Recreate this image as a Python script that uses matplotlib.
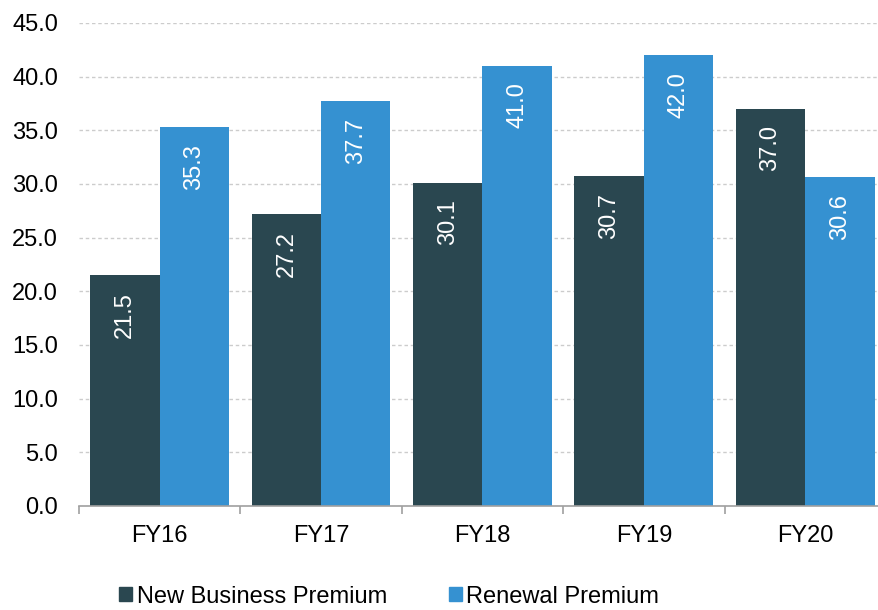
import numpy as np
import matplotlib.pyplot as plt
from matplotlib.patches import Patch

years = ['FY16', 'FY17', 'FY18', 'FY19', 'FY20']
new_business = [21.5, 27.2, 30.1, 30.7, 37.0]
renewal = [35.3, 37.7, 41.0, 42.0, 30.6]

dark = '#2a4750'
blue = '#3591d1'

plt.rcParams['font.family'] = ['Liberation Sans', 'DejaVu Sans']
plt.rcParams['font.size'] = 17

fig = plt.figure(figsize=(8.79, 6.10), dpi=100)
ax = fig.add_axes([0.0899, 0.1705, 0.918, 0.792])

x = np.arange(len(years))
w = 0.43
b1 = ax.bar(x - w / 2, new_business, w, color=dark, zorder=2)
b2 = ax.bar(x + w / 2, renewal, w, color=blue, zorder=2)

# value labels, rotated, inside the top of each bar
for bars, vals in [(b1, new_business), (b2, renewal)]:
    for r, v in zip(bars, vals):
        ax.annotate(f'{v:.1f}', (r.get_x() + r.get_width() / 2, v),
                    xytext=(0, -12), textcoords='offset points',
                    rotation=90, ha='center', va='top', color='white', fontsize=17)

ax.set_xlim(-0.5, len(years) - 0.5)
ax.set_ylim(0, 45)
ax.set_yticks(np.arange(0, 46, 5))
ax.set_yticklabels([f'{t:.1f}' for t in np.arange(0, 46, 5)])
ax.set_xticks(x)
ax.set_xticklabels(years)
ax.set_xticks(np.arange(-0.5, len(years), 1), minor=True)

ax.yaxis.grid(True, linestyle=(0, (2.5, 2)), color='#cccccc', linewidth=1, zorder=0)
ax.set_axisbelow(True)

for s in ['top', 'right', 'left']:
    ax.spines[s].set_visible(False)
ax.spines['bottom'].set_color('#a0a0a0')
ax.spines['bottom'].set_linewidth(1.2)

ax.tick_params(axis='y', length=0, pad=15)
ax.tick_params(axis='x', which='major', length=0, pad=14)
ax.tick_params(axis='x', which='minor', length=6, color='#a0a0a0', width=1.2)

handles = [Patch(color=dark, label='New Business Premium'),
           Patch(color=blue, label='Renewal Premium')]
fig.legend(handles=handles, loc='center', bbox_to_anchor=(0.443, 0.022), ncol=2,
           frameon=False, handlelength=0.55, handleheight=0.55, handletextpad=0.2,
           columnspacing=2.6, fontsize=17)

fig.savefig('out.png', dpi=100)
